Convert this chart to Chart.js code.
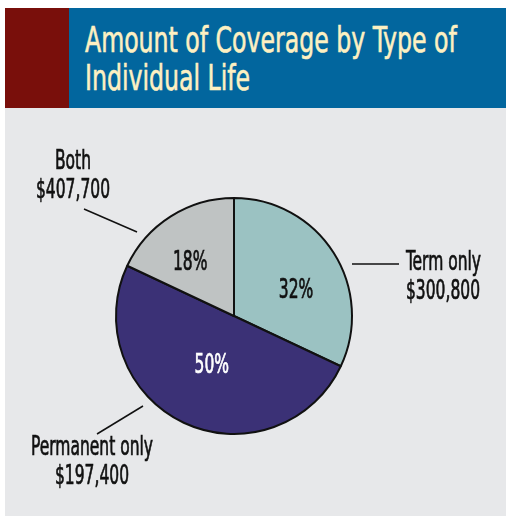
<!DOCTYPE html>
<html>
<head>
<meta charset="utf-8">
<script src="https://cdn.jsdelivr.net/npm/chart.js@4"></script>
<style>
  body { margin:0; background:#fff; width:506px; height:516px; position:relative; overflow:hidden; }
  #hdr { position:absolute; left:5px; top:8px; width:501px; height:100px; background:#02669e; }
  #hdr .red { position:absolute; left:0; top:0; width:64px; height:100px; background:#790f0b; }
  #hdr h1 { position:absolute; left:80px; top:13px; margin:0; font-weight:normal;
    font-family:"DejaVu Sans Condensed","Liberation Sans Narrow",sans-serif;
    font-size:36px; line-height:38px; color:#fdf0c2; white-space:nowrap;
    -webkit-text-stroke:0.6px #fdf0c2; transform-origin:left top; }
  #hdr h1 span { display:inline-block; }
  #panel { position:absolute; left:5px; top:108px; width:501px; height:408px; background:#e7e8ea; }
</style>
</head>
<body>
<div id="hdr"><div class="red"></div><h1><span id="t1">Amount of Coverage by Type of</span><br><span>Individual Life</span></h1></div>
<div id="panel"><canvas id="pie" width="501" height="408"></canvas></div>
<script>
// ── Data ─────────────────────────────────────────────────────
const categories = ['Term only', 'Permanent only', 'Both'];
const shares     = [32, 50, 18];                       // percent
const amounts    = ['$300,800', '$197,400', '$407,700'];
const colors     = ['#9bc2c2', '#3b3176', '#bfc3c3'];
const pctColors  = ['#111', '#fff', '#111'];

const FONT = '"DejaVu Sans Condensed","Liberation Sans Narrow",sans-serif';

// ── Title squeeze (condensed face in the original) ───────────
const h1 = document.querySelector('#hdr h1');
h1.style.transform = 'scaleX(' + (372 / document.getElementById('t1').offsetWidth) + ')';

// ── Label layout (relative to pie centre) ────────────────────
const pctPlace = [ {r:0.57, da: 9.7}, {r:0.46, da:-1}, {r:0.59, da:-6.6} ];
const leaders  = [
  { from:[118,-52], to:[165,-52], text:[172,-46], align:'left'   },
  { from:[-91, 90], to:[-137,118], text:[-142,139], align:'center' },
  { from:[-97,-84], to:[-150,-107], text:[-161,-147], align:'center' }
];

let sx = 1;
function drawText(ctx, str, x, y, align) {
  ctx.save();
  ctx.translate(x, y);
  ctx.scale(sx, 1);
  ctx.textAlign = align;
  ctx.strokeStyle = ctx.fillStyle;
  ctx.lineWidth = 0.7;
  ctx.fillText(str, 0, 0);
  ctx.strokeText(str, 0, 0);
  ctx.restore();
}

const labelPlugin = {
  id: 'pieLabels',
  afterDatasetsDraw(chart) {
    const ctx  = chart.ctx;
    const arcs = chart.getDatasetMeta(0).data;
    ctx.save();
    ctx.font = '26px ' + FONT;
    sx = 122 / ctx.measureText('Permanent only').width;
    arcs.forEach((arc, i) => {
      const cx = arc.x, cy = arc.y, R = arc.outerRadius;
      // percentage inside slice
      const mid = (arc.startAngle + arc.endAngle) / 2 + pctPlace[i].da * Math.PI / 180;
      const px = cx + Math.cos(mid) * R * pctPlace[i].r;
      const py = cy + Math.sin(mid) * R * pctPlace[i].r;
      ctx.fillStyle = pctColors[i];
      ctx.textBaseline = 'middle';
      drawText(ctx, shares[i] + '%', px, py + 1, 'center');
      // leader line + outside label
      const L = leaders[i];
      ctx.strokeStyle = '#111';
      ctx.lineWidth = 1.5;
      ctx.beginPath();
      ctx.moveTo(cx + L.from[0], cy + L.from[1]);
      ctx.lineTo(cx + L.to[0], cy + L.to[1]);
      ctx.stroke();
      ctx.fillStyle = '#111';
      ctx.textBaseline = 'alphabetic';
      drawText(ctx, categories[i], cx + L.text[0], cy + L.text[1], L.align);
      drawText(ctx, amounts[i], cx + L.text[0], cy + L.text[1] + 29, L.align);
    });
    ctx.restore();
  }
};

new Chart(document.getElementById('pie'), {
  type: 'pie',
  data: {
    labels: categories,
    datasets: [{ data: shares, backgroundColor: colors, borderColor: '#111', borderWidth: 2 }]
  },
  options: {
    responsive: false,
    animation: false,
    layout: { padding: { left:110, right:153, top:89, bottom:81 } },
    plugins: { legend: { display:false }, tooltip: { enabled:false } }
  },
  plugins: [labelPlugin]
});
</script>
</body>
</html>
